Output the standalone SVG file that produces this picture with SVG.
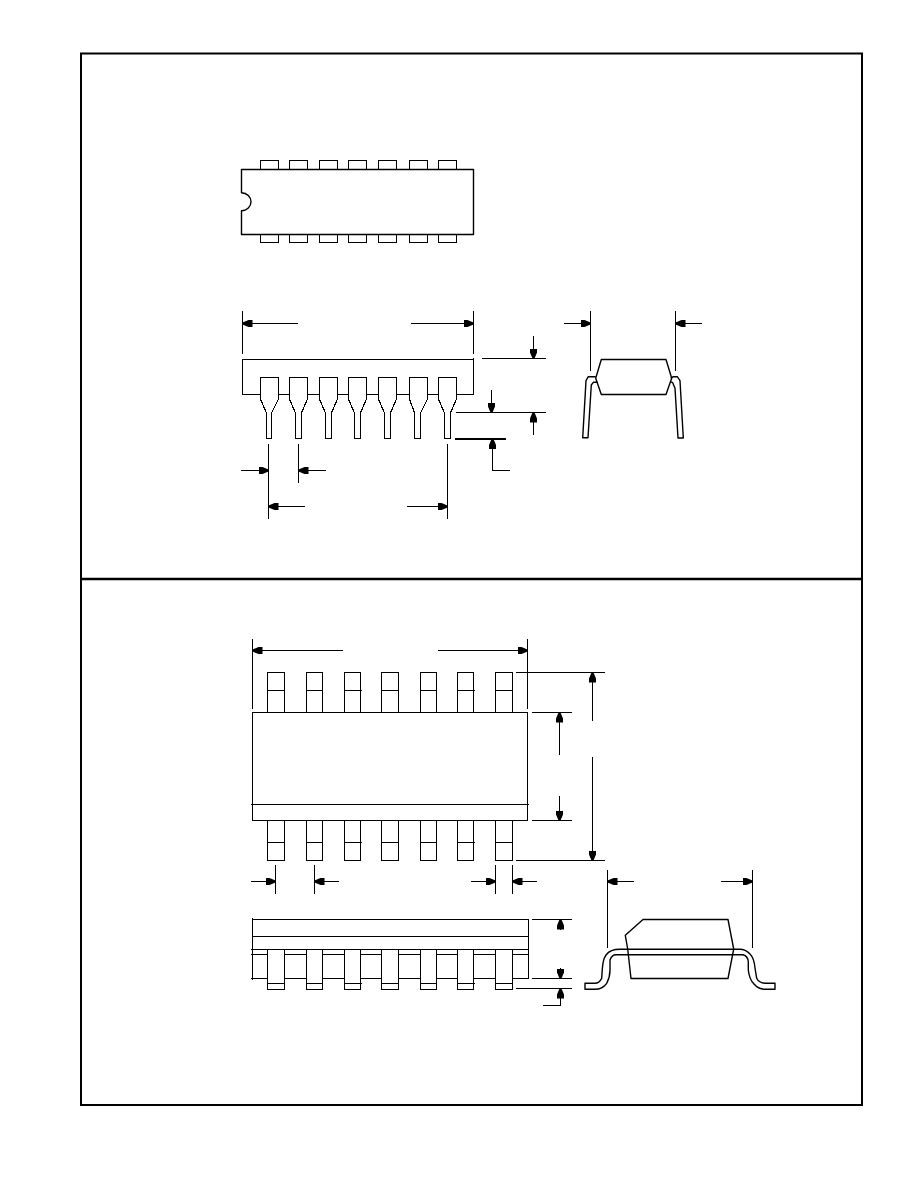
<svg xmlns="http://www.w3.org/2000/svg" width="918" height="1188" viewBox="0 0 918 1188">
<style>
.l{fill:none;stroke:#000;stroke-width:1.2;shape-rendering:crispEdges}
.w{fill:#fff;stroke:#000;stroke-width:1.2;shape-rendering:crispEdges}
.c{fill:none;stroke:#000;stroke-width:1.4;stroke-linejoin:round}
.a{fill:none;stroke:#000;stroke-width:1.2;shape-rendering:crispEdges;marker-end:url(#h)}
</style>
<defs>
<marker id="h" markerUnits="userSpaceOnUse" markerWidth="12" markerHeight="9" refX="10" refY="4.5" orient="auto">
<path d="M0 1H4L10 3.5V5.5L4 8H0Z" fill="#000"/>
</marker>
</defs>
<rect width="918" height="1188" fill="#fff"/>
<g id="frame">
<rect x="81" y="53.5" width="781" height="1051.5" fill="none" stroke="#000" stroke-width="2"/>
<path d="M81 579H862" fill="none" stroke="#000" stroke-width="2.4"/>
</g>
<g id="dip-top-view">
<path class="l" d="M260.5 169V160.5H278.5V169M289.5 169V160.5H307.5V169M319.5 169V160.5H337.5V169M348.5 169V160.5H366.5V169M378.5 169V160.5H396.5V169M409.5 169V160.5H427.5V169M438.5 169V160.5H456.5V169"/>
<path class="l" d="M260.5 234V242.5H278.5V234M289.5 234V242.5H307.5V234M319.5 234V242.5H337.5V234M348.5 234V242.5H366.5V234M378.5 234V242.5H396.5V234M409.5 234V242.5H427.5V234M438.5 234V242.5H456.5V234"/>
<path class="c" d="M241.5 192.7V169.5H473.5V234.5H241.5V210.7C247 210.7 251 206.5 251 201.7C251 196.9 247 192.7 241.5 192.7Z"/>
</g>
<g id="dip-side-view">
<rect class="l" x="242.5" y="359.5" width="231" height="35"/>
<path class="w" d="M260.5 377.5H278.5V399L271.5 413V438.5H266.5V413L260.5 399Z"/>
<path class="w" d="M289.5 377.5H307.5V399L301.5 413V438.5H295.5V413L289.5 399Z"/>
<path class="w" d="M319.5 377.5H337.5V399L331.5 413V438.5H325.5V413L319.5 399Z"/>
<path class="w" d="M348.5 377.5H366.5V399L360.5 413V438.5H354.5V413L348.5 399Z"/>
<path class="w" d="M378.5 377.5H396.5V399L390.5 413V438.5H384.5V413L378.5 399Z"/>
<path class="w" d="M409.5 377.5H427.5V399L420.5 413V438.5H414.5V413L409.5 399Z"/>
<path class="w" d="M438.5 377.5H456.5V399L450.5 413V438.5H444.5V413L438.5 399Z"/>
</g>
<g id="dip-end-view">
<path class="c" d="M601.3 359.5H666L671.7 378.3L666 394.5H601.3L595.7 378.3Z"/>
<path class="c" d="M595.7 376.7H588.3L586 380.7L582.7 437.7H588L591.3 385L593.3 382.3H597.7"/>
<path class="c" d="M670.7 378.3L673.3 376.7H677.3L680 380.7L683.3 438H678L675 388.3L672.7 382.7L670 381.7"/>
</g>
<g id="soic-top-view">
<rect class="l" x="252.5" y="712.5" width="275" height="108"/>
<path class="l" d="M251 804.5H529"/>
<g id="soic-top-pins">
<path class="l" d="M267.5 712V672.5H284.5V712M267.5 690.5H284.5M306.5 712V672.5H322.5V712M306 690.5H323M344.5 712V672.5H360.5V712M344 690.5H361.5M381.5 712V672.5H398.5V712M381 690.5H399M420.5 712V672.5H436.5V712M420 690.5H437M457.5 712V672.5H473.5V712M457.5 690.5H474.5M495.5 712V672.5H512.5V712M495.5 690.5H512.5"/>
</g>
<g id="soic-bottom-pins">
<path class="l" d="M267.5 821V860.5H284.5V821M267.5 842.5H284.5M306.5 821V860.5H322.5V821M306 842.5H323M344.5 821V860.5H360.5V821M344 842.5H361.5M381.5 821V860.5H398.5V821M381 842.5H399M420.5 821V860.5H436.5V821M420 842.5H437M457.5 821V860.5H473.5V821M457.5 842.5H474.5M495.5 821V860.5H512.5V821M495.5 842.5H512.5"/>
</g>
</g>
<g id="soic-side-view">
<path class="l" d="M252.5 918V980M528.5 919V979M252 919.5H528M252 936.5H528M251 949.5H529M251 954.5H529M251 978.5H529"/>
<rect class="w" x="267.5" y="949.5" width="17" height="40"/>
<rect class="w" x="306.5" y="949.5" width="16" height="40"/>
<rect class="w" x="344.5" y="949.5" width="16" height="40"/>
<rect class="w" x="381.5" y="949.5" width="17" height="40"/>
<rect class="w" x="420.5" y="949.5" width="16" height="40"/>
<rect class="w" x="457.5" y="949.5" width="16" height="40"/>
<rect class="w" x="495.5" y="949.5" width="17" height="40"/>
<path class="l" d="M267.5 983.5H284.5M306 983.5H323M344 983.5H361.5M381 983.5H399M420 983.5H437M457 983.5H474.5M495.5 983.5H512.5"/>
</g>
<g id="soic-end-view">
<path class="c" d="M620 949.3C613 949.3 609 951 606 955C603 959 602.5 964 601.7 978.3C600 981.5 598 983.3 595 983.3H585V989.3H595C600 989.3 604 987 606.7 983.3C609 979 610 975 610 970V960C611 957 612.5 954.7 616 954.7H743C746 955.5 748 958 748.3 961.7V970C749 977 751 981 754 984C757 987.5 761 989.3 765 989.3H775V983.3H765C761 983 758 981 756.7 978.3L755 968C754.5 962 753 957 750 954C747 951 744 949.3 740 949.3Z"/>
<path class="c" d="M643 919.5H728L733.7 949L728 978.5H631L627.7 949L625.3 935.3Z"/>
</g>
<g id="connectors">
<path class="l" d="M242.5 311V354M473.5 311V354M473.5 358V359"/>
<path class="a" d="M298 323.5H242.5"/>
<path class="a" d="M411 323.5H473.5"/>
<path class="l" d="M482 358.5H546M456 412.5H546"/>
<path class="a" d="M533.5 336V358.5"/>
<path class="a" d="M491.5 390V412.5"/>
<path class="a" d="M533.5 435V412.5"/>
<path d="M455 439H506" fill="none" stroke="#000" stroke-width="2"/>
<path class="a" d="M510 470.5H492.5V439"/>
<path class="l" d="M268.5 444V519M298.5 444V483M447.5 444V519"/>
<path class="a" d="M241 470.5H268.5"/>
<path class="a" d="M326 470.5H298.5"/>
<path class="a" d="M305 506.5H268.5"/>
<path class="a" d="M407 506.5H447.5"/>
<path class="l" d="M590.5 311V371M675.5 311V371"/>
<path class="a" d="M564 323.5H590.5"/>
<path class="a" d="M702 323.5H675.5"/>
<path class="l" d="M252.5 639V709M527.5 639V709"/>
<path class="a" d="M343 650.5H252.5"/>
<path class="a" d="M438 650.5H527.5"/>
<path class="l" d="M516 672.5H605M532 712.5H572M532 820.5H572M516 860.5H605"/>
<path class="a" d="M592.5 720.5V672.5"/>
<path class="a" d="M592.5 757V860.5"/>
<path class="a" d="M559.5 755V712.5"/>
<path class="a" d="M559.5 796V820.5"/>
<path class="l" d="M275.5 865V893.5M314.5 865V893.5M495.5 865V893.5M512.5 865V893.5"/>
<path class="a" d="M251 881.5H275.5"/>
<path class="a" d="M339 881.5H314.5"/>
<path class="a" d="M471 881.5H495.5"/>
<path class="a" d="M537 881.5H512.5"/>
<path class="l" d="M607.5 870V948M752.5 870V948"/>
<path class="a" d="M634 881.5H607.5"/>
<path class="a" d="M721 881.5H752.5"/>
<path class="l" d="M532 919.5H572M532 978.5H572M516 988.5H572"/>
<path class="a" d="M560.5 930V919.5"/>
<path class="a" d="M560.5 968V978.5"/>
<path class="a" d="M543 1005.5H560.5V988.5"/>
</g>
</svg>
